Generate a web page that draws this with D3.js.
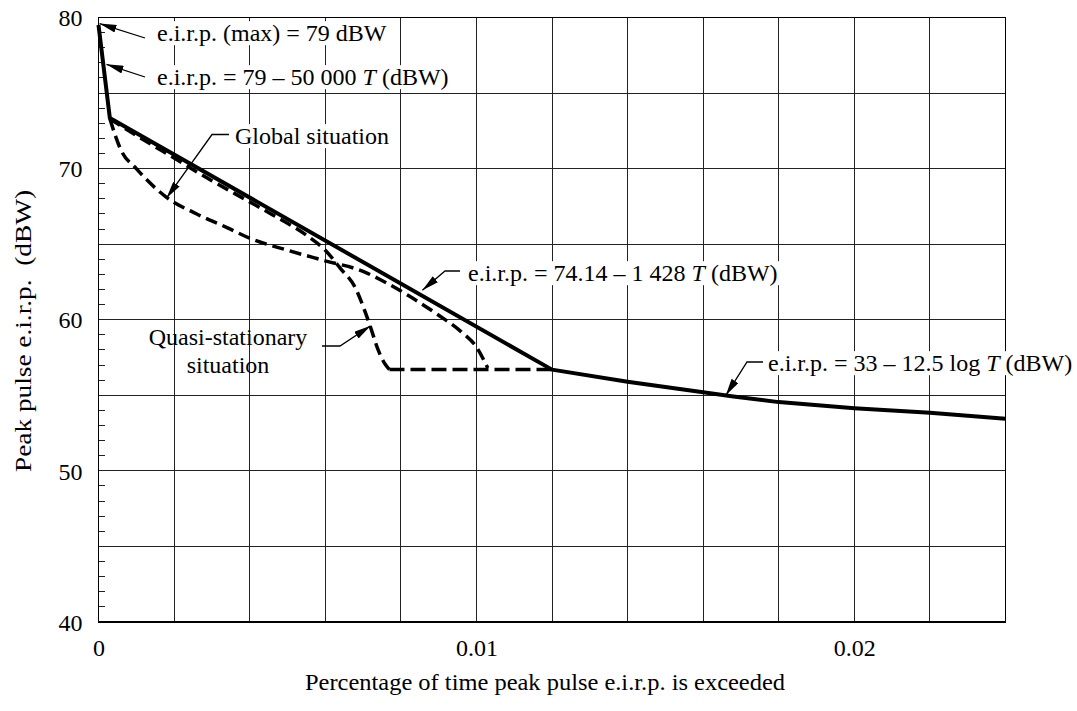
<!DOCTYPE html>
<html>
<head>
<meta charset="utf-8">
<script src="https://cdn.jsdelivr.net/npm/d3@7"></script>
<style>
  html, body { margin: 0; padding: 0; background: #fff; }
  svg { display: block; }
  text { font-family: "Liberation Serif", "Times New Roman", serif; fill: #000; }
</style>
</head>
<body>
<svg id="chart" width="1077" height="711"></svg>
<script>
// ---------- data ----------
const xTickValues = [0, 0.01, 0.02];
const xTickLabels = ["0", "0.01", "0.02"];
const yTickValues = [40, 50, 60, 70, 80];
const yTickLabels = ["40", "50", "60", "70", "80"];

// Solid envelope curve
const solidT = [0, 0.0003, 0.012, 0.014, 0.016, 0.0168, 0.018, 0.020, 0.022, 0.024];
const solidV = [79.5, 73.35, 56.7, 55.9, 55.2, 54.92, 54.55, 54.15, 53.85, 53.45];

// Dashed: global situation
const globalT = [0.0003, 0.0006, 0.001, 0.0018, 0.0026, 0.0034, 0.004, 0.005, 0.006, 0.007, 0.0075, 0.0082, 0.009, 0.0096, 0.0100, 0.0103];
const globalV = [73.3, 71.2, 70.0, 68.1, 67.0, 66.1, 65.4, 64.6, 63.9, 63.2, 62.6, 61.6, 60.3, 59.2, 58.2, 56.8];

// Dashed: quasi-stationary situation (ends with the 56.7 dBW plateau)
const quasiT = [0.0003, 0.001, 0.002, 0.003, 0.004, 0.0046, 0.0055, 0.006, 0.0064, 0.0068, 0.007, 0.0072, 0.0074, 0.0076, 0.0077];
const quasiV = [73.3, 72.2, 70.7, 69.2, 67.8, 66.95, 65.6, 64.6, 63.4, 62.1, 60.9, 59.5, 58.0, 57.0, 56.7];
const plateauT = [0.0077, 0.012];
const plateauV = [56.7, 56.7];

// ---------- layout ----------
(function () {
const svg = d3.select("#chart");
const pL = 98.5, pR = 1005.5, pT = 17.5, pB = 622;
const x = d3.scaleLinear().domain([0, 0.024]).range([pL, pR]);
const y = d3.scaleLinear().domain([40, 80]).range([pB, pT]);
const FS = 24;

// grid
const grid = svg.append("g").attr("stroke", "#222").attr("stroke-width", 1).attr("shape-rendering", "crispEdges");
grid.selectAll("line.v").data(d3.range(1, 12).map(i => i * 0.002)).join("line")
  .attr("x1", d => x(d)).attr("x2", d => x(d)).attr("y1", pT).attr("y2", pB);
grid.selectAll("line.h").data(d3.range(45, 80, 5)).join("line")
  .attr("y1", d => y(d)).attr("y2", d => y(d)).attr("x1", pL).attr("x2", pR);

// minor ticks on left axis
const minor = d3.range(41, 80).filter(v => v % 5 !== 0);
grid.selectAll("line.m").data(minor).join("line")
  .attr("y1", d => y(d)).attr("y2", d => y(d)).attr("x1", pL).attr("x2", pL + 6.5);

// frame
svg.append("rect").attr("x", pL).attr("y", pT).attr("width", pR - pL).attr("height", pB - pT)
  .attr("fill", "none").attr("stroke", "#000").attr("stroke-width", 1.5).attr("shape-rendering", "crispEdges");

// axes labels via d3 axes (no domain/ticks lines)
const yAxis = d3.axisLeft(y).tickValues(yTickValues).tickFormat((d, i) => yTickLabels[i]).tickSize(0).tickPadding(16);
const gy = svg.append("g").attr("transform", `translate(${pL},0)`).call(yAxis);
gy.select(".domain").remove();
gy.selectAll("text").attr("font-size", FS).attr("font-family", "Liberation Serif, serif").attr("dy", "0.34em");

const xAxis = d3.axisBottom(x).tickValues(xTickValues).tickFormat((d, i) => xTickLabels[i]).tickSize(0).tickPadding(17);
const gx = svg.append("g").attr("transform", `translate(0,${pB})`).call(xAxis);
gx.select(".domain").remove();
gx.selectAll("text").attr("font-size", FS).attr("font-family", "Liberation Serif, serif");

// axis titles
svg.append("text").attr("x", 545).attr("y", 690).attr("text-anchor", "middle").attr("font-size", FS)
  .attr("textLength", 480).attr("lengthAdjust", "spacingAndGlyphs")
  .text("Percentage of time peak pulse e.i.r.p. is exceeded");
svg.append("text").attr("transform", "translate(31,331) rotate(-90)").attr("text-anchor", "middle")
  .attr("font-size", FS).attr("xml:space", "preserve").style("white-space", "pre")
  .attr("textLength", 282).attr("lengthAdjust", "spacingAndGlyphs")
  .text("Peak pulse e.i.r.p.  (dBW)");

// curves
const zip = (T, V) => T.map((t, i) => [t, V[i]]);
const linear = d3.line().x(d => x(d[0])).y(d => y(d[1]));
const smooth = d3.line().x(d => x(d[0])).y(d => y(d[1])).curve(d3.curveMonotoneX);

svg.append("path").attr("d", smooth(zip(globalT, globalV))).attr("fill", "none")
  .attr("stroke", "#000").attr("stroke-width", 3.5).attr("stroke-dasharray", "12,6");
svg.append("path").attr("d", smooth(zip(quasiT, quasiV))).attr("fill", "none")
  .attr("stroke", "#000").attr("stroke-width", 3.5).attr("stroke-dasharray", "12,6");
svg.append("path").attr("d", linear(zip(plateauT, plateauV))).attr("fill", "none")
  .attr("stroke", "#000").attr("stroke-width", 3.5).attr("stroke-dasharray", "15,6");
svg.append("path").attr("d", linear(zip(solidT, solidV))).attr("fill", "none")
  .attr("stroke", "#000").attr("stroke-width", 4).attr("stroke-linejoin", "round");

// arrow marker
const defs = svg.append("defs");
defs.append("marker").attr("id", "arr").attr("viewBox", "0 0 17 8").attr("refX", 17).attr("refY", 4)
  .attr("markerWidth", 17).attr("markerHeight", 8).attr("markerUnits", "userSpaceOnUse").attr("orient", "auto")
  .append("path").attr("d", "M0,0 L17,4 L0,8 Z").attr("fill", "#000");

// annotations
function label(parts, tx, ty) {
  const g = svg.append("g");
  const rect = g.append("rect").attr("fill", "#fff");
  const t = g.append("text").attr("x", tx).attr("y", ty).attr("font-size", FS).attr("dy", "0.34em")
    .attr("xml:space", "preserve").style("white-space", "pre");
  parts.forEach(p => t.append("tspan").attr("font-style", p.i ? "italic" : "normal").text(p.s));
  const b = t.node().getBBox();
  rect.attr("x", b.x - 5).attr("y", b.y + 1).attr("width", b.width + 10).attr("height", b.height - 2);
  return g;
}
function leader(pts) {
  svg.append("path").attr("d", d3.line()(pts)).attr("fill", "none").attr("stroke", "#000")
    .attr("stroke-width", 1.3).attr("marker-end", "url(#arr)");
}

label([{ s: "e.i.r.p. (max) = 79 dBW" }], 157, 33);
leader([[145, 38], [x(0) + 1, y(79.6)]]);

label([{ s: "e.i.r.p. = 79 – 50 000 " }, { s: "T", i: true }, { s: " (dBW)" }], 157, 77);
leader([[145, 77], [x(0.00021), y(76.9)]]);

label([{ s: "Global situation" }], 235, 136);
leader([[229, 134.5], [212, 134.5], [x(0.0018), y(68.05)]]);

const q = svg.append("g");
q.append("text").attr("x", 228).attr("y", 337).attr("dy", "0.34em").attr("text-anchor", "middle").attr("font-size", FS).text("Quasi-stationary");
q.append("text").attr("x", 228).attr("y", 365).attr("dy", "0.34em").attr("text-anchor", "middle").attr("font-size", FS).text("situation");
leader([[322, 346], [340, 346], [x(0.0072), y(59.6)]]);

label([{ s: "e.i.r.p. = 74.14 – 1 428 " }, { s: "T", i: true }, { s: " (dBW)" }], 468, 273);
leader([[460, 271], [445, 271], [x(0.00857), y(61.95)]]);

label([{ s: "e.i.r.p. = 33 – 12.5 log " }, { s: "T", i: true }, { s: " (dBW)" }], 768, 363);
leader([[763, 362], [747, 362], [x(0.0166), y(55.0)]]);
})();
</script>
</body>
</html>
